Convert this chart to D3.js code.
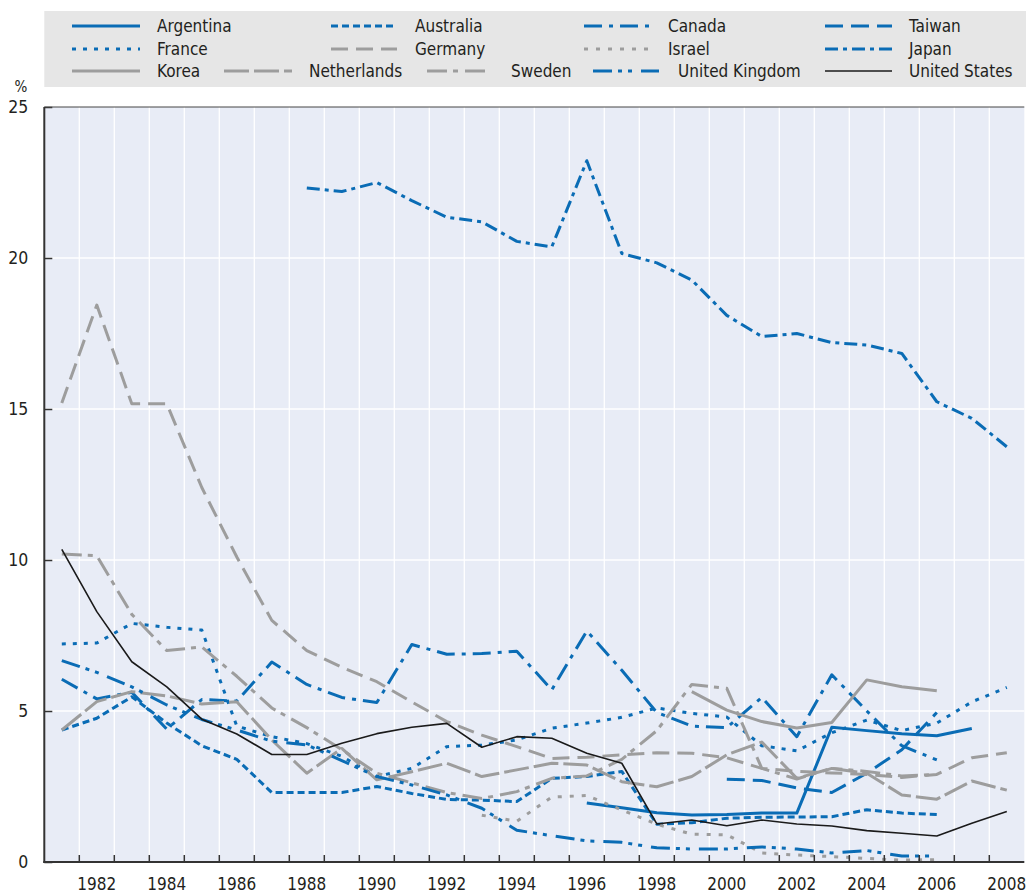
<!DOCTYPE html>
<html>
<head>
<meta charset="utf-8">
<script src="https://cdn.jsdelivr.net/npm/d3@7"></script>
<style>
  html, body { margin: 0; padding: 0; background: #fff; }
  svg text { font-family: "DejaVu Sans Condensed", "DejaVu Sans", sans-serif; font-stretch: condensed; fill: #231f20; }
</style>
</head>
<body>
<div id="chart"></div>
<script>
const years = [1981, 1982, 1983, 1984, 1985, 1986, 1987, 1988, 1989, 1990, 1991, 1992, 1993, 1994,
               1995, 1996, 1997, 1998, 1999, 2000, 2001, 2002, 2003, 2004, 2005, 2006, 2007, 2008];
const yTicks = [0, 5, 10, 15, 20, 25];

// values per year, 1981..2008, null = no data
const argentina = [null, null, null, null, null, null, null, null, null, null, null, null, null, null,
                   null, 1.95, 1.8, 1.63, 1.56, 1.57, 1.62, 1.62, 4.46, 4.35, 4.25, 4.18, 4.42, null];
const australia = [4.37, 4.76, 5.47, 4.6, 3.85, 3.4, 2.3, 2.3, 2.3, 2.5, 2.27, 2.07, 2.05, 2.0,
                   2.77, 2.83, 3.0, 1.25, 1.3, 1.45, 1.48, 1.49, 1.5, 1.73, 1.62, 1.57, null, null];
const canada = [6.05, 5.4, 5.62, 4.4, 5.38, 5.33, 6.62, 5.88, 5.45, 5.28, 7.2, 6.88, 6.9, 6.98,
                5.7, 7.65, 6.35, 4.95, 4.5, 4.45, 5.45, 4.15, 6.2, 5.0, 3.85, 3.38, null, null];
const taiwan = [null, null, null, null, null, null, null, null, null, null, null, null, null, null,
                null, null, null, null, null, 2.74, 2.7, 2.45, 2.3, 2.94, 3.72, 4.95, null, null];
const france = [7.22, 7.25, 7.9, 7.77, 7.68, 4.5, 4.15, 3.92, 3.5, 2.83, 3.1, 3.82, 3.87, 4.04,
                4.43, 4.6, 4.79, 5.1, 4.92, 4.8, 3.85, 3.68, 4.28, 4.7, 4.35, 4.6, 5.3, 5.78];
const germany = [15.2, 18.44, 15.17, 15.17, 12.4, 10.1, 8.0, 7.0, 6.45, 5.97, 5.3, 4.65, 4.2, 3.82,
                 3.43, 3.47, 3.55, 3.62, 3.6, 3.45, 3.1, 3.0, 2.95, 2.9, 2.8, 2.9, 3.45, 3.62];
const israel = [null, null, null, null, null, null, null, null, null, null, null, null, 1.55, 1.35,
                2.15, 2.2, 1.72, 1.25, 0.92, 0.9, 0.3, 0.23, 0.18, 0.12, 0.06, 0.08, null, null];
const japan = [null, null, null, null, null, null, null, 22.32, 22.2, 22.5, 21.9, 21.35, 21.2, 20.55,
               20.37, 23.22, 20.15, 19.84, 19.27, 18.1, 17.4, 17.5, 17.2, 17.12, 16.84, 15.24, 14.69, 13.75];
const korea = [null, null, null, null, null, null, null, null, null, null, null, null, null, null,
               null, null, null, null, 5.64, 5.03, 4.65, 4.44, 4.62, 6.03, 5.8, 5.67, null, null];
const netherlands = [4.37, 5.31, 5.64, 5.5, 5.23, 5.31, 4.04, 2.94, 3.76, 2.72, 2.99, 3.27, 2.83, 3.05,
                     3.27, 3.21, 2.66, 2.49, 2.83, 3.55, 3.97, 2.77, 3.1, 2.94, 2.22, 2.08, 2.68, 2.38];
const sweden = [10.2, 10.14, 8.2, 7.0, 7.12, 6.15, 5.1, 4.45, 3.72, 2.94, 2.62, 2.3, 2.1, 2.33,
                2.77, 2.85, 3.4, 4.35, 5.88, 5.75, 3.1, 2.75, 3.1, 3.0, 2.85, 2.9, null, null];
const unitedKingdom = [6.67, 6.28, 5.8, 5.2, 4.72, 4.37, 4.0, 3.88, 3.36, 2.83, 2.55, 2.22, 1.78, 1.05,
                       0.87, 0.7, 0.65, 0.47, 0.43, 0.43, 0.5, 0.43, 0.3, 0.38, 0.2, 0.2, null, null];
const unitedStates = [10.35, 8.29, 6.63, 5.8, 4.73, 4.24, 3.56, 3.56, 3.93, 4.25, 4.46, 4.59, 3.8, 4.15,
                      4.1, 3.6, 3.27, 1.26, 1.39, 1.2, 1.39, 1.26, 1.19, 1.04, 0.95, 0.86, 1.28, 1.67];

const BLUE = "#0a6cb5", GREY = "#9d9d9d";

const series = [
  { name: "Argentina", values: argentina, color: BLUE, dash: null, width: 3 },
  { name: "Australia", values: australia, color: BLUE, dash: "7,4", width: 3 },
  { name: "Canada", values: canada, color: BLUE, dash: "18,7,4,7", width: 3 },
  { name: "Taiwan", values: taiwan, color: BLUE, dash: "18,8", width: 3 },
  { name: "France", values: france, color: BLUE, dash: "4,7", width: 3 },
  { name: "Germany", values: germany, color: GREY, dash: "17,8", width: 3 },
  { name: "Israel", values: israel, color: GREY, dash: "4,8", width: 3 },
  { name: "Japan", values: japan, color: BLUE, dash: "13,5,4,5", width: 3 },
  { name: "Korea", values: korea, color: GREY, dash: null, width: 3 },
  { name: "Netherlands", values: netherlands, color: GREY, dash: "25,5", width: 3 },
  { name: "Sweden", values: sweden, color: GREY, dash: "20,6,5,7", width: 3 },
  { name: "United Kingdom", values: unitedKingdom, color: BLUE, dash: "19,6,4,6,4,9", width: 3 },
  { name: "United States", values: unitedStates, color: "#1a1a1a", dash: null, width: 1.6 }
];

// legend slots: [row, sample start, sample end, text x]
const legendSlots = {
  "Argentina": [0, 72, 140, 157], "Australia": [0, 331, 397, 415],
  "Canada": [0, 584, 649, 668], "Taiwan": [0, 825, 892, 909],
  "France": [1, 72, 140, 157], "Germany": [1, 331, 397, 415],
  "Israel": [1, 584, 649, 668], "Japan": [1, 825, 892, 909],
  "Korea": [2, 72, 140, 157], "Netherlands": [2, 224, 292, 309],
  "Sweden": [2, 427, 485, 511], "United Kingdom": [2, 593, 659, 678],
  "United States": [2, 825, 892, 909]
};

const W = 1026, H = 894;
const m = { left: 44.3, right: 1024.3, top: 107, bottom: 862 };

const svg = d3.select("#chart").append("svg")
  .attr("width", W).attr("height", H)
  .attr("viewBox", `0 0 ${W} ${H}`);

const x = d3.scaleBand().domain(years).range([m.left, m.right]).padding(0);
const y = d3.scaleLinear().domain([0, 25]).range([m.bottom, m.top]);
const cx = yr => x(yr) + x.bandwidth() / 2;

// legend box
const rowY = [26, 49, 71];
svg.append("rect")
  .attr("x", m.left).attr("y", 11)
  .attr("width", W - m.left).attr("height", 76)
  .attr("fill", "#e6e6e6");

const leg = svg.append("g").selectAll("g")
  .data(series)
  .enter().append("g");
leg.append("line")
  .attr("x1", d => legendSlots[d.name][1])
  .attr("x2", d => legendSlots[d.name][2])
  .attr("y1", d => rowY[legendSlots[d.name][0]])
  .attr("y2", d => rowY[legendSlots[d.name][0]])
  .attr("stroke", d => d.color)
  .attr("stroke-width", d => d.width)
  .attr("stroke-dasharray", d => d.dash);
leg.append("text")
  .attr("x", d => legendSlots[d.name][3])
  .attr("y", d => rowY[legendSlots[d.name][0]])
  .attr("dy", "0.36em")
  .attr("font-size", 17)
  .text(d => d.name);

// plot background
svg.append("rect")
  .attr("x", m.left).attr("y", m.top)
  .attr("width", m.right - m.left).attr("height", m.bottom - m.top)
  .attr("fill", "#e8ecf6");

// grid
svg.append("g").selectAll("line.v")
  .data(years.slice(1))
  .enter().append("line")
  .attr("x1", d => x(d)).attr("x2", d => x(d))
  .attr("y1", m.top).attr("y2", m.bottom)
  .attr("stroke", "#fff").attr("stroke-width", 1.3);
svg.append("g").selectAll("line.h")
  .data(yTicks.slice(1, -1))
  .enter().append("line")
  .attr("x1", m.left).attr("x2", m.right)
  .attr("y1", d => y(d)).attr("y2", d => y(d))
  .attr("stroke", "#fff").attr("stroke-width", 1.3);

// series
const line = d3.line()
  .defined(d => d.v !== null)
  .x(d => cx(d.year))
  .y(d => y(d.v));

svg.append("g").selectAll("path")
  .data(series)
  .enter().append("path")
  .attr("d", d => line(d.values.map((v, i) => ({ year: years[i], v }))))
  .attr("fill", "none")
  .attr("stroke", d => d.color)
  .attr("stroke-width", d => d.width)
  .attr("stroke-dasharray", d => d.dash)
  .attr("stroke-linejoin", "round");

// axes
const yAxis = svg.append("g")
  .attr("transform", `translate(${m.left},0)`)
  .call(d3.axisLeft(y).tickValues(yTicks).tickSize(-8).tickPadding(16));
yAxis.select(".domain").remove();
yAxis.selectAll(".tick line").attr("stroke", "#333").attr("stroke-width", 1.5);
yAxis.selectAll(".tick text").attr("font-size", 17.5).attr("fill", "#231f20")
  .attr("font-family", null);

const xAxis = svg.append("g")
  .attr("transform", `translate(0,${m.bottom})`)
  .call(d3.axisBottom(x).tickSize(0).tickPadding(16)
    .tickFormat(d => d % 2 === 0 ? d : ""));
xAxis.select(".domain").remove();
xAxis.selectAll(".tick text").attr("font-size", 17).attr("fill", "#231f20")
  .attr("font-family", null);

svg.append("g").selectAll("line.xt")
  .data(years.slice(1))
  .enter().append("line")
  .attr("x1", d => x(d)).attr("x2", d => x(d))
  .attr("y1", m.bottom - 7).attr("y2", m.bottom)
  .attr("stroke", "#333").attr("stroke-width", 1.5);

// frame
svg.append("line")
  .attr("x1", m.left).attr("x2", m.right).attr("y1", m.top).attr("y2", m.top)
  .attr("stroke", "#444").attr("stroke-width", 1);
svg.append("line")
  .attr("x1", m.left).attr("x2", m.left).attr("y1", m.top).attr("y2", m.bottom + 1)
  .attr("stroke", "#333").attr("stroke-width", 2);
svg.append("line")
  .attr("x1", m.left - 1).attr("x2", m.right).attr("y1", m.bottom).attr("y2", m.bottom)
  .attr("stroke", "#333").attr("stroke-width", 2);

svg.append("text")
  .attr("x", 21).attr("y", 92)
  .attr("text-anchor", "middle")
  .attr("font-size", 15)
  .text("%");
</script>
</body>
</html>
